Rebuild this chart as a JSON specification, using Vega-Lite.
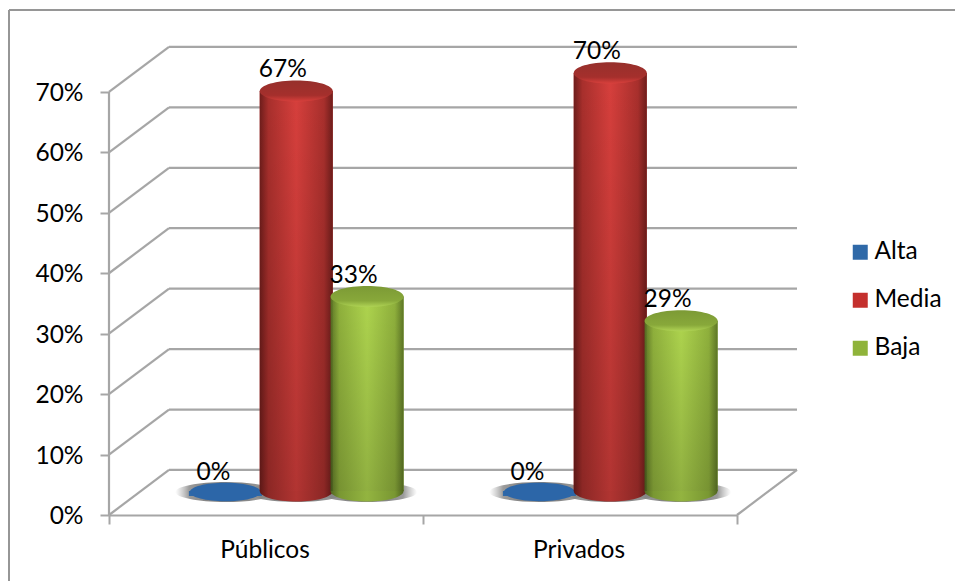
{
"$schema":"https://vega.github.io/schema/vega-lite/v6.json",
"autosize":"none","width":688,"height":469,
"padding":{"left":109,"top":46,"right":159,"bottom":66},
"background":"white",
"config":{"view":{"stroke":null},"font":"Lato"},
"datasets":{
"d":[
{"categoria":"Públicos","serie":"Alta","valor":0},
{"categoria":"Públicos","serie":"Media","valor":0.67},
{"categoria":"Públicos","serie":"Baja","valor":0.33},
{"categoria":"Privados","serie":"Alta","valor":0},
{"categoria":"Privados","serie":"Media","valor":0.70},
{"categoria":"Privados","serie":"Baja","valor":0.29}],
"muros":[
{"x":60,"x2":688,"y":0.0745,"y2":0.0745},{"x":60,"x2":688,"y":0.1745,"y2":0.1745},{"x":60,"x2":688,"y":0.2745,"y2":0.2745},{"x":60,"x2":688,"y":0.3745,"y2":0.3745},{"x":60,"x2":688,"y":0.4745,"y2":0.4745},{"x":60,"x2":688,"y":0.5745,"y2":0.5745},{"x":60,"x2":688,"y":0.6745,"y2":0.6745},{"x":60,"x2":688,"y":0.7745,"y2":0.7745},
{"x":0,"x2":60,"y":0,"y2":0.0745},{"x":0,"x2":60,"y":0.1,"y2":0.1745},{"x":0,"x2":60,"y":0.2,"y2":0.2745},{"x":0,"x2":60,"y":0.3,"y2":0.3745},{"x":0,"x2":60,"y":0.4,"y2":0.4745},{"x":0,"x2":60,"y":0.5,"y2":0.5745},{"x":0,"x2":60,"y":0.6,"y2":0.6745},{"x":0,"x2":60,"y":0.7,"y2":0.7745},
{"x":0,"x2":0,"y":0,"y2":0.7},{"x":628,"x2":688,"y":0,"y2":0.0745}],
"marco":[{"x":-100,"x2":846,"y":0.8357,"y2":0.8357},{"x":-100,"x2":-100,"y":0.8357,"y2":-0.12}]
},
"layer":[
{"data":{"name":"muros"},"mark":{"type":"rule","color":"#a6a6a6","strokeWidth":2.2},
 "encoding":{
  "x":{"field":"x","type":"quantitative","scale":{"domain":[0,688]},"axis":null},"x2":{"field":"x2"},
  "y":{"field":"y","type":"quantitative","scale":{"domain":[0,0.776],"nice":false},
   "axis":{"title":null,"values":[0,0.1,0.2,0.3,0.4,0.5,0.6,0.7],"format":".0%","grid":false,"domain":false,"tickColor":"#a6a6a6","tickWidth":2,"tickSize":9,"labelFontSize":24.5,"labelColor":"#000000","labelPadding":17,"labelOffset":1.5,"labelFont":"Lato"}},
  "y2":{"field":"y2"}}},
{"data":{"name":"marco"},"mark":{"type":"rule","color":"#969696","strokeWidth":2},
 "encoding":{"x":{"field":"x","type":"quantitative","scale":{"domain":[0,688]},"axis":null},"x2":{"field":"x2"},"y":{"field":"y","type":"quantitative"},"y2":{"field":"y2"}}},
{"data":{"name":"d"},
 "encoding":{
  "x":{"field":"categoria","type":"nominal","sort":["Públicos","Privados"],"scale":{"range":[0,628],"paddingInner":0,"paddingOuter":0},
   "axis":{"title":null,"labelAngle":0,"tickBand":"extent","domainColor":"#a6a6a6","domainWidth":2.2,"tickColor":"#a6a6a6","tickWidth":2,"tickSize":9,"labelFontSize":24.5,"labelColor":"#000000","labelPadding":14,"labelOffset":-1.5,"grid":false,"labelFont":"Lato"}},
  "xOffset":{"field":"serie","type":"nominal","sort":["Alta","Media","Baja"],"scale":{"range":[81,293.5],"paddingInner":0,"paddingOuter":0}},
  "y":{"field":"valor","type":"quantitative"}
 },
 "layer":[
 {"mark":{"type":"point","filled":true,"size":10000,"opacity":1,"yOffset":-23,
   "shape":"M-1,0A1,0.2 0 1 1 1,0A1,0.2 0 1 1 -1,0Z",
   "fill":{"gradient":"radial","x1":0.5,"y1":0.5,"r1":0.2,"x2":0.5,"y2":0.5,"r2":0.5,"stops":[{"offset":0,"color":"rgba(110,110,110,0.85)"},{"offset":0.55,"color":"rgba(130,130,130,0.8)"},{"offset":1,"color":"rgba(160,160,160,0)"}]}},
  "encoding":{"y":{"datum":0}}},
 {"mark":{"type":"bar","width":73,"yOffset":-19,"y2Offset":-24},
  "encoding":{"y2":{"datum":0},"color":{"field":"serie","type":"nominal","sort":["Alta","Media","Baja"],"scale":{"domain":["Alta","Media","Baja"],"range":["#2f69a8","#c4302d","#8fb33a"]},
   "legend":{"orient":"none","legendX":739,"legendY":194,"title":null,"symbolType":"square","symbolSize":225,"labelFontSize":24.5,"labelColor":"#000000","rowPadding":23,"labelOffset":2,"symbolStrokeWidth":0,"labelFont":"Lato"}}}},
 {"transform":[{"filter":"datum.serie==='Alta'"}],
  "mark":{"type":"point","filled":true,"size":5041,"opacity":1,"yOffset":-23,
   "shape":"M-1,0A1,0.26 0 1 1 1,0A1,0.26 0 1 1 -1,0Z","fill":"#2c66a8"},
  "encoding":{"y":{"datum":0}}},
 {"transform":[{"filter":"datum.serie==='Media'"}],
  "mark":{"type":"point","filled":true,"size":5329,"opacity":1,"yOffset":-24,
   "shape":"M-1,0A1,0.29 0 1 1 1,0A1,0.29 0 1 1 -1,0Z",
   "fill":{"gradient":"linear","x1":0,"x2":1,"y1":0,"y2":0,"stops":[{"offset":0,"color":"#5c1816"},{"offset":0.12,"color":"#8c2826"},{"offset":0.5,"color":"#b03431"},{"offset":0.88,"color":"#8c2826"},{"offset":1,"color":"#5c1816"}]}},
  "encoding":{"y":{"datum":0}}},
 {"transform":[{"filter":"datum.serie==='Media'"}],
  "mark":{"type":"bar","width":73,"yOffset":-19,"y2Offset":-24,
   "fill":{"gradient":"linear","x1":0,"x2":1,"y1":0,"y2":0,"stops":[{"offset":0,"color":"#6e1d1b"},{"offset":0.12,"color":"#a82f2c"},{"offset":0.5,"color":"#d63f3c"},{"offset":0.88,"color":"#a82f2c"},{"offset":1,"color":"#6e1d1b"}]}},
  "encoding":{"y2":{"datum":0}}},
 {"transform":[{"filter":"datum.serie==='Baja'"}],
  "mark":{"type":"point","filled":true,"size":5329,"opacity":1,"yOffset":-24,
   "shape":"M-1,0A1,0.29 0 1 1 1,0A1,0.29 0 1 1 -1,0Z",
   "fill":{"gradient":"linear","x1":0,"x2":1,"y1":0,"y2":0,"stops":[{"offset":0,"color":"#506520"},{"offset":0.12,"color":"#799732"},{"offset":0.5,"color":"#93b440"},{"offset":0.88,"color":"#799732"},{"offset":1,"color":"#506520"}]}},
  "encoding":{"y":{"datum":0}}},
 {"transform":[{"filter":"datum.serie==='Baja'"}],
  "mark":{"type":"bar","width":73,"yOffset":-19,"y2Offset":-24,
   "fill":{"gradient":"linear","x1":0,"x2":1,"y1":0,"y2":0,"stops":[{"offset":0,"color":"#5e7726"},{"offset":0.12,"color":"#8fb03c"},{"offset":0.5,"color":"#aed44e"},{"offset":0.88,"color":"#8fb03c"},{"offset":1,"color":"#5e7726"}]}},
  "encoding":{"y2":{"datum":0}}},
 {"transform":[{"filter":"datum.serie!=='Alta'"}],
  "mark":{"type":"bar","width":73,"yOffset":-19,"y2Offset":-24,
   "fill":{"gradient":"linear","x1":0,"x2":0,"y1":0,"y2":1,"stops":[{"offset":0,"color":"rgba(0,0,0,0)"},{"offset":1,"color":"rgba(0,0,0,0.17)"}]}},
  "encoding":{"y2":{"datum":0}}},
 {"transform":[{"filter":"datum.serie==='Media'"}],
  "mark":{"type":"point","filled":true,"size":5329,"opacity":1,"yOffset":-19,
   "shape":"M-1,0A1,0.29 0 1 1 1,0A1,0.29 0 1 1 -1,0Z",
   "fill":{"gradient":"linear","x1":0,"x2":0,"y1":0,"y2":1,"stops":[{"offset":0,"color":"#96302c"},{"offset":0.7,"color":"#a52f2c"},{"offset":1,"color":"#d8403c"}]}}},
 {"transform":[{"filter":"datum.serie==='Baja'"}],
  "mark":{"type":"point","filled":true,"size":5329,"opacity":1,"yOffset":-19,
   "shape":"M-1,0A1,0.29 0 1 1 1,0A1,0.29 0 1 1 -1,0Z",
   "fill":{"gradient":"linear","x1":0,"x2":0,"y1":0,"y2":1,"stops":[{"offset":0,"color":"#7c9a35"},{"offset":0.7,"color":"#88a83a"},{"offset":1,"color":"#b0d455"}]}}},
 {"transform":[{"filter":"datum.serie!=='Alta'"}],
  "mark":{"type":"text","fontSize":24.5,"color":"#000000","baseline":"middle","dx":-13.5,"yOffset":-40,"font":"Lato"},
  "encoding":{"text":{"field":"valor","type":"quantitative","format":".0%"}}},
 {"transform":[{"filter":"datum.serie==='Alta'"}],
  "mark":{"type":"text","fontSize":24.5,"color":"#000000","baseline":"middle","dx":-12,"yOffset":-42,"font":"Lato"},
  "encoding":{"text":{"field":"valor","type":"quantitative","format":".0%"}}}
 ]}
],
"resolve":{"scale":{"x":"independent"},"axis":{"x":"independent"}}
}
